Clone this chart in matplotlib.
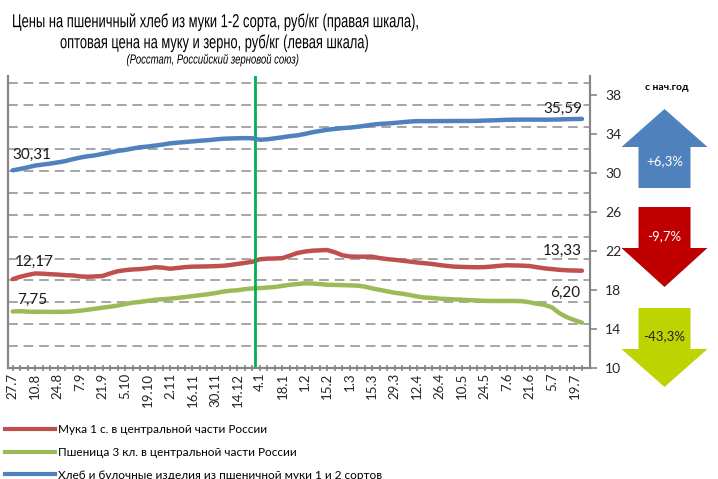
import matplotlib
matplotlib.use("Agg")
import matplotlib.pyplot as plt
from matplotlib.patches import Polygon
from matplotlib.lines import Line2D
from matplotlib.patheffects import AbstractPathEffect
from matplotlib.transforms import Affine2D

# dates shown on the x axis (every third point is labelled)
date_labels = ["27.7", "10.8", "24.8", "7.9", "21.9", "5.10", "19.10", "2.11", "16.11",
               "30.11", "14.12", "4.1", "18.1", "1.2", "15.2", "1.3", "15.3", "29.3",
               "12.4", "26.4", "10.5", "24.5", "7.6", "21.6", "5.7", "19.7"]

# bread, rub/kg (right scale)
bread = [30.31, 30.45, 30.62, 30.80, 30.90, 31.00, 31.12, 31.25, 31.45, 31.62,
         31.75, 31.85, 32.00, 32.15, 32.30, 32.40, 32.55, 32.68, 32.75, 32.85,
         32.95, 33.08, 33.15, 33.22, 33.28, 33.35, 33.40, 33.48, 33.55, 33.58,
         33.60, 33.62, 33.60, 33.45, 33.50, 33.60, 33.70, 33.82, 33.90, 34.05,
         34.22, 34.35, 34.48, 34.56, 34.64, 34.70, 34.78, 34.88, 35.00, 35.08,
         35.12, 35.18, 35.25, 35.32, 35.36, 35.36, 35.36, 35.37, 35.37, 35.38,
         35.38, 35.38, 35.39, 35.42, 35.44, 35.47, 35.50, 35.51, 35.52, 35.52,
         35.52, 35.51, 35.52, 35.54, 35.56, 35.58, 35.59]

# flour 1st grade, rub/kg (left scale)
flour = [12.17, 12.50, 12.75, 12.95, 12.92, 12.85, 12.80, 12.72, 12.68, 12.55,
         12.50, 12.55, 12.60, 12.95, 13.25, 13.40, 13.50, 13.55, 13.65, 13.80,
         13.75, 13.60, 13.70, 13.82, 13.88, 13.90, 13.92, 13.95, 14.00, 14.10,
         14.25, 14.40, 14.56, 14.90, 14.98, 15.00, 15.05, 15.40, 15.75, 15.95,
         16.07, 16.12, 16.16, 15.85, 15.45, 15.28, 15.25, 15.25, 15.25, 15.05,
         14.92, 14.82, 14.70, 14.58, 14.45, 14.35, 14.25, 14.10, 13.98, 13.88,
         13.85, 13.82, 13.80, 13.82, 13.90, 14.00, 14.07, 14.05, 14.02, 13.97,
         13.80, 13.65, 13.55, 13.45, 13.38, 13.35, 13.33]

# wheat 3rd class, rub/kg (left scale)
wheat = [7.75, 7.78, 7.72, 7.70, 7.70, 7.68, 7.70, 7.70, 7.75, 7.85,
         7.98, 8.12, 8.26, 8.40, 8.55, 8.75, 8.95, 9.05, 9.20, 9.35,
         9.42, 9.50, 9.60, 9.72, 9.85, 9.98, 10.10, 10.25, 10.45, 10.58,
         10.65, 10.80, 10.90, 10.95, 11.02, 11.10, 11.25, 11.40, 11.50, 11.60,
         11.58, 11.50, 11.40, 11.38, 11.35, 11.32, 11.28, 11.15, 10.90, 10.70,
         10.50, 10.30, 10.18, 10.00, 9.80, 9.65, 9.60, 9.50, 9.45, 9.40,
         9.35, 9.30, 9.25, 9.20, 9.18, 9.18, 9.18, 9.18, 9.15, 9.00,
         8.80, 8.65, 8.30, 7.50, 6.95, 6.55, 6.20]

year_start = 32.4  # position of the green "new year" marker
changes = ["+6,3%", "-9,7%", "-43,3%"]
series_names = ["Мука 1 с. в центральной части России",
                "Пшеница 3 кл. в центральной части России",
                "Хлеб и булочные изделия из пшеничной муки 1 и 2 сортов"]
title_lines = ["Цены на пшеничный хлеб из муки 1-2 сорта, руб/кг (правая шкала),",
               "оптовая цена на муку и зерно, руб/кг (левая шкала)"]
subtitle = "(Росстат, Российский зерновой союз)"

BLUE, RED, GREEN = "#4f81bd", "#c0504d", "#9bbb59"
GRID = "#a6a6a6"
AXC = "#868686"
BODY = ["Lato", "DejaVu Sans"]
SANS = ["Liberation Sans", "DejaVu Sans"]


class Squeeze(AbstractPathEffect):
    """draw text glyphs narrower (no Arial Narrow available)"""

    def __init__(self, sx):
        super().__init__()
        self.sx = sx

    def draw_path(self, renderer, gc, tpath, affine, rgbFace=None):
        renderer.draw_path(gc, tpath, Affine2D().scale(self.sx, 1) + affine, rgbFace)


W, H = 718, 479
fig = plt.figure(figsize=(W / 100, H / 100), dpi=100)
ax = fig.add_axes([8 / W, 1 - 368 / H, 582 / W, 292 / H])
ax2 = ax.twinx()

x = list(range(len(bread)))
ax.set_xlim(-0.63, 77.07)
ax.set_ylim(0, 40)
ax2.set_ylim(10, 40)

for gy in range(3, 40, 3):
    ax.axhline(gy, color=GRID, lw=1.4, dashes=(5, 3), zorder=0)

ax.plot(x, flour, color=RED, lw=3.2, solid_capstyle="round", zorder=3)
ax.plot(x, wheat, color=GREEN, lw=3.2, solid_capstyle="round", zorder=3)
ax2.plot(x, bread, color=BLUE, lw=3.2, solid_capstyle="round", zorder=3)
ax.axvline(year_start, color="#00b050", lw=2, zorder=4)

for a in (ax, ax2):
    a.spines["top"].set_visible(False)
    for s in ("left", "right", "bottom"):
        a.spines[s].set_color(AXC)
        a.spines[s].set_linewidth(1.5)

ax.tick_params(axis="y", left=False, labelleft=False)
ax.set_xticks(x, minor=True)
ax.set_xticks(range(0, len(bread), 3))
ax.set_xticklabels(date_labels, rotation=90, fontsize=9.5, family=BODY, color="#262626")
ax.tick_params(axis="x", which="both", direction="inout", length=5, width=1.2, color=AXC, pad=1)
ax2.set_yticks(range(10, 39, 4))
ax2.set_yticklabels([str(v) for v in range(10, 39, 4)], fontsize=10, family=BODY, color="#262626")
ax2.tick_params(axis="y", direction="out", length=5, width=1.2, color=AXC, pad=6)

lab = dict(fontsize=11, family=BODY, color="#1a1a1a", textcoords="offset pixels", va="center")
fmt = lambda v: f"{v:.2f}".replace(".", ",")
ax2.annotate(fmt(bread[0]), (x[0], bread[0]), xytext=(0, 15), ha="left", **lab)
ax.annotate(fmt(flour[0]), (x[0], flour[0]), xytext=(2, 17), ha="left", **lab)
ax.annotate(fmt(wheat[0]), (x[0], wheat[0]), xytext=(4, 12), ha="left", **lab)
ax2.annotate(fmt(bread[-1]), (x[-1], bread[-1]), xytext=(0, 10), ha="right", **lab)
ax.annotate(fmt(flour[-1]), (x[-1], flour[-1]), xytext=(0, 20), ha="right", **lab)
ax.annotate(fmt(wheat[-1]), (x[-1], wheat[-1]), xytext=(-2, 30), ha="right", **lab)

# titles: (text, centre x, centre y, target width in px)
t1 = fig.text(0, 1 - 22 / H, title_lines[0], ha="left", va="center", fontsize=13.5, family=SANS)
t2 = fig.text(0, 1 - 43 / H, title_lines[1], ha="left", va="center", fontsize=13.5, family=SANS)
t3 = fig.text(0, 1 - 60 / H, subtitle, ha="left", va="center", fontsize=9.5,
              style="italic", family=SANS)

# change arrows
fig.text(667 / W, 1 - 87 / H, "с нач.год", ha="center", va="center", fontsize=7.5,
         weight="bold", family=BODY)


def arrow(cx, y_tip, y_base, y_end, color):
    pts = [(cx, y_tip), (cx + 43, y_base), (cx + 26, y_base), (cx + 26, y_end),
           (cx - 26, y_end), (cx - 26, y_base), (cx - 43, y_base)]
    fig.patches.append(Polygon([(px / W, 1 - py / H) for px, py in pts], closed=True,
                               facecolor=color, edgecolor="none", transform=fig.transFigure))


arrow(664.5, 109, 147, 188, BLUE)
arrow(664.5, 287, 248, 207, "#c00000")
arrow(664.5, 387, 349, 308, "#bed400")
fig.text(664.5 / W, 1 - 161 / H, changes[0], ha="center", va="center", fontsize=9.5, color="white", family=BODY)
fig.text(664.5 / W, 1 - 236 / H, changes[1], ha="center", va="center", fontsize=9.5, color="white", family=BODY)
fig.text(664.5 / W, 1 - 336 / H, changes[2], ha="center", va="center", fontsize=9.5, color="#222222", family=BODY)

handles = [Line2D([], [], color=c, lw=3) for c in (RED, GREEN, BLUE)]
fig.legend(handles, series_names, loc="upper left", bbox_to_anchor=(5 / W, 1 - 424 / H),
           frameon=False, borderpad=0, borderaxespad=0, handlelength=4.2, handletextpad=0.25,
           labelspacing=1.0, prop={"family": BODY, "size": 8.5})

# squeeze title lines to the width of the original narrow face
fig.canvas.draw()
rend = fig.canvas.get_renderer()
for t, cx, target in ((t1, 215, 406), (t2, 214, 308), (t3, 213, 173)):
    w = t.get_window_extent(rend).width
    sx = min(1.0, target / w)
    t.set_path_effects([Squeeze(sx)])
    t.set_x((cx - sx * w / 2) / W)

fig.savefig("out.png", dpi=100)
